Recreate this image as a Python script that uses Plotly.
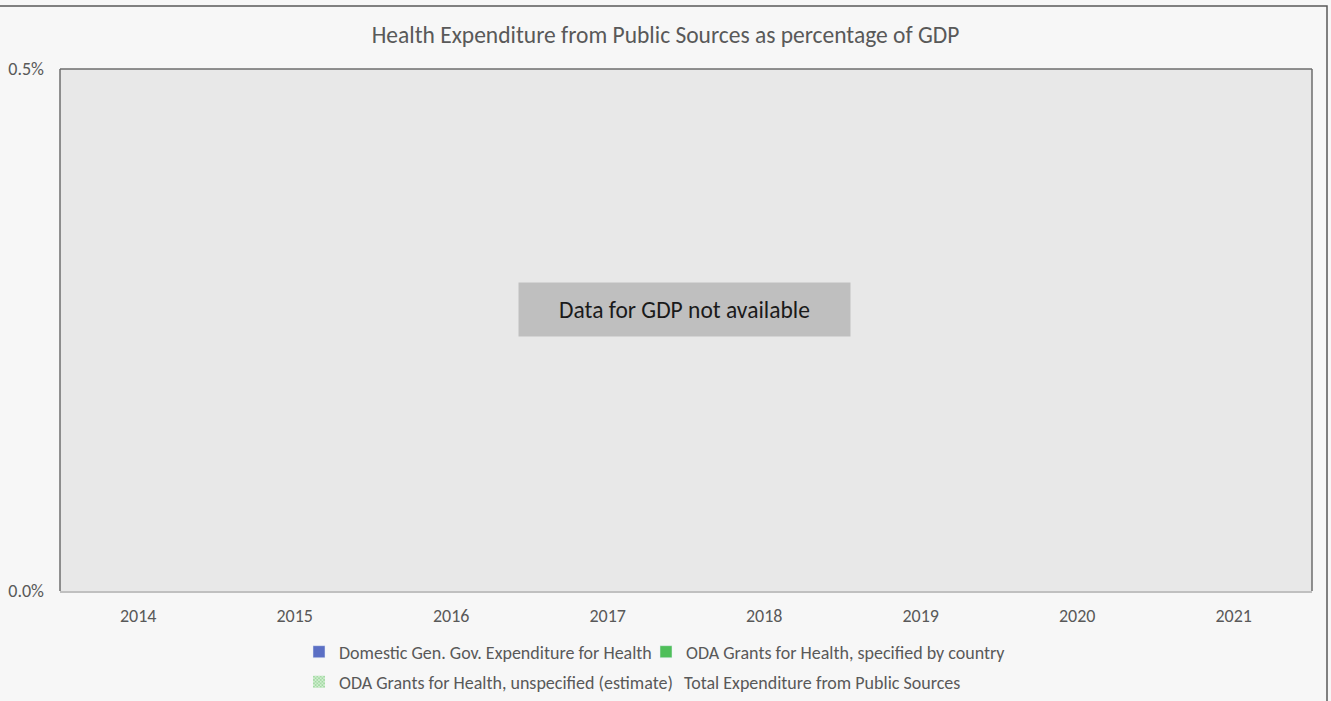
import plotly.graph_objects as go

years = ["2014", "2015", "2016", "2017", "2018", "2019", "2020", "2021"]
domestic = [None] * 8
oda_specified = [None] * 8
oda_unspecified = [None] * 8
total = [None] * 8
y_ticks = [0, 0.005]
y_tick_labels = ["0.0%", "0.5%"]

FONT = "Carlito, Lato, Liberation Sans, Arial"
GREY = "#595959"

W, H = 1331, 701
L, T, R_, B = 60, 69, 19, 110
PW, PH = W - L - R_, H - T - B


def px_x(px):
    return (px - L) / PW


def px_y(py):
    return (T + PH - py) / PH


def cx(px):
    return px / W


def cy(py):
    return 1 - py / H


fig = go.Figure()
fig.add_trace(go.Bar(x=years, y=domestic, name="Domestic Gen. Gov. Expenditure for Health",
                     marker_color="#5b6fc4", legend="legend"))
fig.add_trace(go.Bar(x=years, y=oda_specified, name="ODA Grants for Health, specified by country",
                     marker_color="#4fbf5a", legend="legend2"))
fig.add_trace(go.Bar(x=years, y=oda_unspecified, name="ODA Grants for Health, unspecified (estimate)",
                     marker=dict(color="#e3f4e3",
                                 pattern=dict(shape="x", fgcolor="#5cc05c", bgcolor="#e3f4e3",
                                              size=3, solidity=0.6),
                                 line=dict(width=0)),
                     legend="legend3"))
fig.add_trace(go.Scatter(x=years, y=total, name="Total Expenditure from Public Sources", mode="lines",
                         line=dict(color="rgba(0,0,0,0)", width=0), legend="legend4"))

leg_common = dict(orientation="h", xanchor="left", yanchor="middle", xref="container", yref="container",
                  bgcolor="rgba(0,0,0,0)", font=dict(size=18, color=GREY, family=FONT), itemwidth=30)

fig.update_layout(
    width=W, height=H,
    barmode="stack",
    paper_bgcolor="#f7f7f7",
    plot_bgcolor="#e8e8e8",
    margin=dict(l=L, r=R_, t=T, b=B, autoexpand=False),
    font=dict(family=FONT, size=18, color=GREY),
    title=dict(text="Health Expenditure from Public Sources as percentage of GDP",
               x=0.5, xanchor="center", y=cy(35), yanchor="middle",
               font=dict(size=23.5, color=GREY, family=FONT)),
    xaxis=dict(type="category", categoryorder="array", categoryarray=years,
               showgrid=False, showline=True, linecolor="#c0c0c0", linewidth=1.5,
               ticks="", ticklabelstandoff=8, tickfont=dict(size=18, color=GREY),
               zeroline=False, fixedrange=True, automargin=False),
    yaxis=dict(range=[0, 0.005], tickvals=y_ticks, ticktext=y_tick_labels,
               showgrid=False, zeroline=False, showline=False, ticks="", ticklabelstandoff=15,
               tickfont=dict(size=18, color=GREY), fixedrange=True, automargin=False),
    legend=dict(x=cx(299), y=cy(652), **leg_common),
    legend2=dict(x=cx(646), y=cy(652), **leg_common),
    legend3=dict(x=cx(299), y=cy(682), **leg_common),
    legend4=dict(x=cx(644), y=cy(682), **leg_common),
    showlegend=True,
)

# plot area frame (left, top, right)
for x0, y0, x1, y1 in [(0, 0, 0, 1), (0, 1, 1, 1), (1, 1, 1, 0)]:
    fig.add_shape(type="line", xref="paper", yref="paper", x0=x0, y0=y0, x1=x1, y1=y1,
                  line=dict(color="#6e6e6e", width=1.5))

# outer chart frame
fig.add_shape(type="rect", xref="paper", yref="paper",
              x0=px_x(-20), y0=px_y(760), x1=px_x(1327), y1=px_y(6),
              line=dict(color="#595959", width=1.5), fillcolor="rgba(0,0,0,0)")

fig.add_annotation(text="Data for GDP not available", xref="paper", yref="paper",
                   x=px_x(684), y=px_y(309.5), xanchor="center", yanchor="middle", showarrow=False,
                   width=329, height=51, bgcolor="#bfbfbf",
                   font=dict(size=23.5, color="#1a1a1a", family=FONT))

fig.write_html("out.html", config={"displayModeBar": False},
               post_script="document.body.style.margin='0px';document.body.style.overflow='hidden';")
